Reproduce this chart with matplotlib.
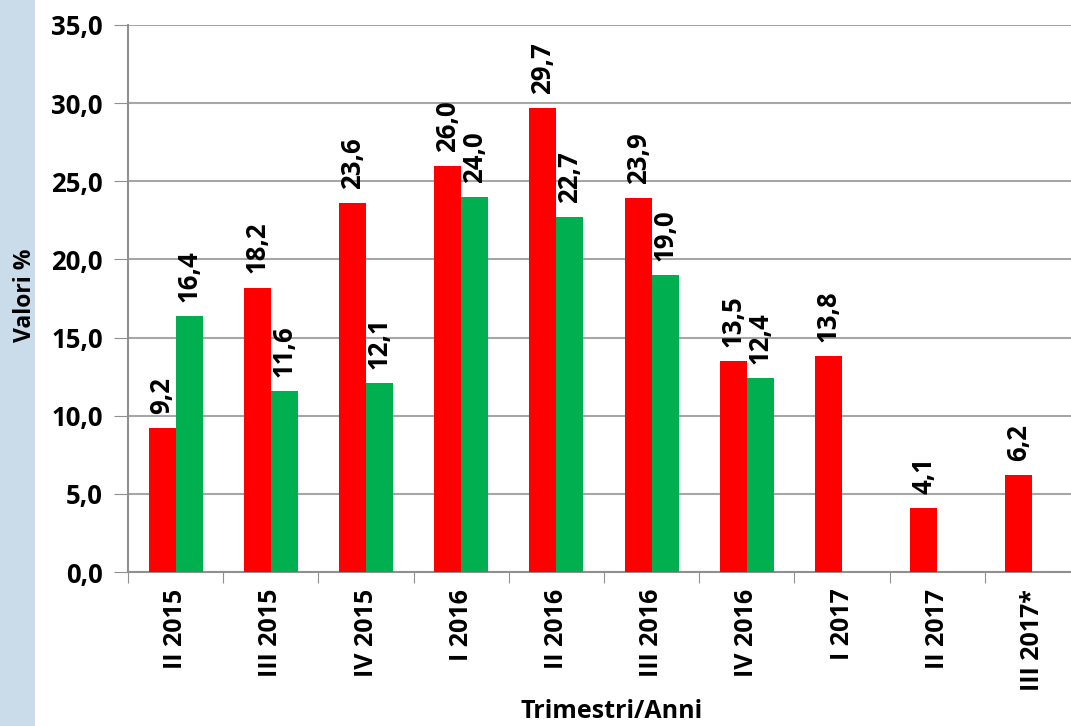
import matplotlib.pyplot as plt
import matplotlib.patches as mpatches
import numpy as np

categories = ["II 2015", "III 2015", "IV 2015", "I 2016", "II 2016",
              "III 2016", "IV 2016", "I 2017", "II 2017", "III 2017*"]
red_values = [9.2, 18.2, 23.6, 26.0, 29.7, 23.9, 13.5, 13.8, 4.1, 6.2]
green_values = [16.4, 11.6, 12.1, 24.0, 22.7, 19.0, 12.4, None, None, None]

plt.rcParams['font.family'] = ['Open Sans', 'DejaVu Sans']

fig = plt.figure(figsize=(10.71, 7.26), dpi=100)
fig.patches.append(mpatches.Rectangle((0, 0), 35 / 1071, 1, transform=fig.transFigure,
                                      facecolor="#CADCEA", zorder=0))
ax = fig.add_axes([128 / 1071, 1 - 572 / 726, 1 - 128 / 1071, (572 - 25) / 726])

x = np.arange(len(categories))
w = 0.284
fs = 18.5
for i, v in enumerate(red_values):
    ax.bar(x[i] - w / 2, v, w, color="#FF0000", zorder=3)
    ax.text(x[i] - w / 2, v + 0.9, f"{v:.1f}".replace(".", ","), rotation=90,
            ha="center", va="bottom", fontsize=fs, fontweight="bold")
for i, v in enumerate(green_values):
    if v is None:
        continue
    ax.bar(x[i] + w / 2, v, w, color="#00B050", zorder=3)
    ax.text(x[i] + w / 2, v + 0.9, f"{v:.1f}".replace(".", ","), rotation=90,
            ha="center", va="bottom", fontsize=fs, fontweight="bold")

ax.set_ylim(0, 35)
ax.set_yticks(np.arange(0, 36, 5))
ax.set_yticklabels([f"{t:.1f}".replace(".", ",") for t in np.arange(0, 36, 5)],
                   fontsize=fs, fontweight="bold")
ax.set_xlim(-0.5, 9.405)
ax.set_xticks(np.arange(-0.5, 9.5, 1))
ax.set_xticklabels([])
ax.set_xticks(x, minor=True)
ax.set_xticklabels(categories, minor=True, rotation=90, fontsize=18, fontweight="bold")
ax.tick_params(axis="x", which="minor", length=0, pad=12)
ax.tick_params(axis="x", which="major", length=8, color="#909090", direction="out")
ax.tick_params(axis="y", length=10, color="#909090", direction="out", pad=8)

ax.grid(axis="y", color="#A6A6A6", linewidth=1.5, zorder=0)
for s in ["top", "right"]:
    ax.spines[s].set_visible(False)
for s in ["left", "bottom"]:
    ax.spines[s].set_color("#909090")
    ax.spines[s].set_linewidth(1.5)

fig.text(612 / 1071, 1 - 712 / 726, "Trimestri/Anni", ha="center", va="center",
         fontsize=18, fontweight="bold")
fig.text(25 / 1071, 1 - 295 / 726, "Valori %", rotation=90, ha="center", va="center",
         fontsize=16.5, fontweight="bold")

fig.savefig("out.png", dpi=100)
